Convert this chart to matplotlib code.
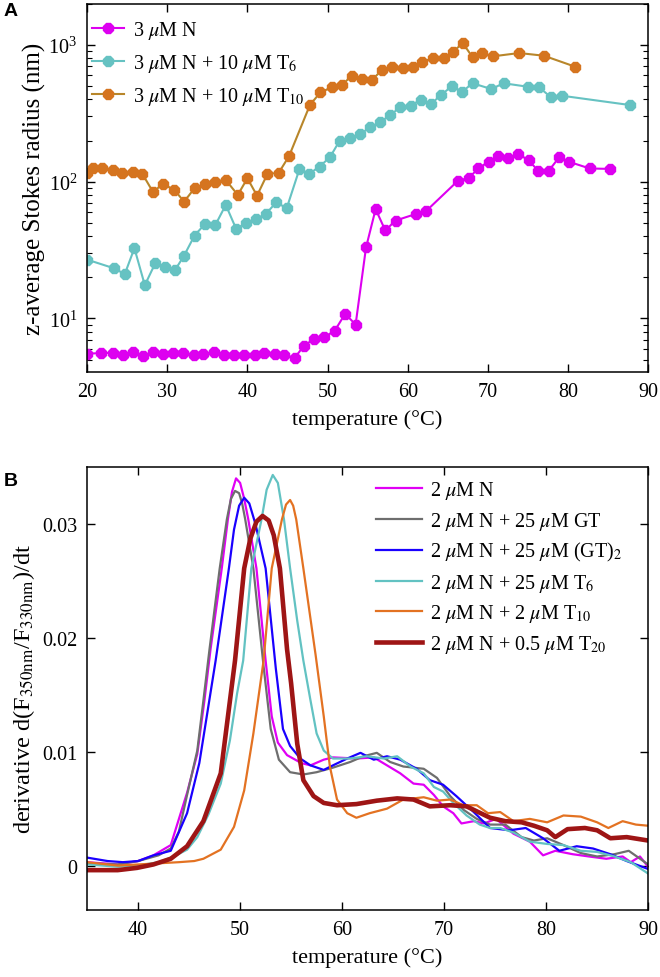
import numpy as np
import matplotlib
matplotlib.use("Agg")
import matplotlib.pyplot as plt

plt.rcParams['font.family'] = ['Liberation Serif', 'DejaVu Serif']
plt.rcParams['mathtext.fontset'] = 'stix'
plt.rcParams['xtick.direction'] = 'in'
plt.rcParams['ytick.direction'] = 'in'
plt.rcParams['xtick.top'] = True
plt.rcParams['ytick.right'] = True
plt.rcParams['axes.linewidth'] = 1.1

# ---- panel A: DLS z-average radius vs temperature ----
tN = [20, 21.7, 23.2, 24.5, 25.7, 27.0, 28.2, 29.5, 30.7, 32.0, 33.3, 34.5, 35.8,
      37.1, 38.3, 39.6, 40.9, 42.1, 43.4, 44.6, 45.9, 47.0, 48.3, 49.6, 50.9,
      52.2, 53.5, 54.8, 56.0, 57.2, 58.5, 61.0, 62.3, 66.3, 67.6, 68.8, 70.1,
      71.3, 72.5, 73.8, 75.1, 76.3, 77.6, 78.9, 80.1, 82.7, 85.3]
rN = [5.5, 5.58, 5.58, 5.43, 5.65, 5.28, 5.7, 5.46, 5.58, 5.58, 5.43, 5.5, 5.65,
      5.43, 5.4, 5.4, 5.4, 5.58, 5.46, 5.4, 5.13, 6.25, 7.07, 7.28, 8.13,
      10.8, 9.0, 33, 63, 44, 52, 58, 61, 102, 106, 125, 140,
      155, 148, 160, 143, 120, 120, 151, 140, 125, 124]

tT6 = [20, 23.3, 24.7, 25.9, 27.2, 28.5, 29.7, 31.0, 32.1, 33.4, 34.7, 36.0, 37.3,
       38.6, 39.8, 41.1, 42.3, 43.6, 44.9, 46.5, 47.7, 49.0, 50.3, 51.5, 52.8,
       54.1, 55.3, 56.6, 57.8, 59.1, 60.4, 61.6, 62.9, 64.2, 65.5, 66.8, 68.1,
       70.4, 72.0, 75.0, 76.4, 77.9, 79.2, 87.7]
rT6 = [26.9, 23.3, 21.1, 32.6, 17.5, 25.3, 23.6, 22.7, 28.8, 40.3, 49.1, 48.2, 67.6,
       45.1, 49.9, 53.4, 58.0, 70.7, 63.9, 124, 114, 129, 151, 199, 208,
       223, 250, 272, 308, 350, 360, 398, 370, 433, 499, 456, 525,
       477, 525, 495, 490, 414, 426, 364]

tT10 = [20, 20.7, 21.9, 23.2, 24.4, 25.7, 26.9, 28.2, 29.5, 30.9, 32.1, 33.4, 34.7,
        36.0, 37.3, 38.8, 40.0, 41.2, 42.5, 43.9, 45.2, 47.8, 49.1, 50.5, 51.8,
        53.0, 54.3, 55.5, 56.8, 58.1, 59.4, 60.6, 61.8, 63.1, 64.5, 65.6, 66.9,
        68.1, 69.3, 70.6, 73.9, 77.0, 80.9]
rT10 = [116, 125, 127, 122, 116, 118, 114, 84.5, 96, 87, 71.4, 89.5, 96,
        100, 103, 80, 106, 79, 114, 116, 154, 364, 450, 490, 509,
        596, 563, 554, 656, 694, 679, 694, 754, 800, 800, 893, 1029,
        813, 869, 826, 874, 835, 694]

dls_labels = [r'3 $\mu$M N', r'3 $\mu$M N + 10 $\mu$M T$_{6}$',
              r'3 $\mu$M N + 10 $\mu$M T$_{10}$']

# ---- panel B: first derivative of fluorescence ratio ----
tB_N = [35, 38, 40, 41.5, 43.2, 44.8, 45.8, 46.5, 47.1, 48.2, 48.8, 49.2, 49.6, 50.0,
        50.4, 50.8, 51.6, 52.5, 53.1, 53.7, 54.6, 56.0, 56.9, 58.2, 59.1, 61.4, 63.1, 64.4,
        65.7, 67.0, 68.0, 69.0, 69.9, 70.9, 71.7, 72.9, 73.9, 75.1, 76.8, 78.4, 79.7,
        80.9, 82.6, 84.2, 85.9, 87.5, 88.3, 89.2, 90]
dB_N = [0.0003, 0.0001, 0.0004, 0.0009, 0.0018, 0.0064, 0.0098, 0.0145, 0.019, 0.0261,
        0.0304, 0.0328, 0.0340, 0.0336, 0.0322, 0.0304, 0.0261, 0.0180, 0.0131, 0.0108,
        0.0097, 0.0090, 0.0088, 0.0093, 0.0095, 0.0094, 0.0095, 0.0088, 0.0081, 0.0072,
        0.0071, 0.0062, 0.0052, 0.0046, 0.0037, 0.0039, 0.0037, 0.0041, 0.0028, 0.0021,
        0.0009, 0.0013, 0.0010, 0.0008, 0.0006, 0.0008, 0.0003, 0.0008, -0.0001]

tB_GT = [35, 38, 40, 42, 43.2, 44.0, 44.8, 45.8, 46.4, 47.0, 48.0, 48.7, 49.1, 49.5,
         49.9, 50.2, 50.5, 51.3, 52.3, 53.0, 53.8, 54.9, 56.2, 57.5, 59.1, 60.8, 62.1, 63.4,
         64.7, 66.0, 68.0, 69.3, 70.6, 71.9, 73.2, 74.5, 76.0, 77.6, 78.8, 80.1, 81.7,
         83.4, 85.0, 86.7, 88.1, 90]
dB_GT = [0.0002, 0.0001, 0.0004, 0.0009, 0.0015, 0.0030, 0.0062, 0.0101, 0.0145, 0.019,
         0.0261, 0.0304, 0.0322, 0.0329, 0.0327, 0.0318, 0.0304, 0.0261, 0.0175, 0.0120,
         0.0093, 0.0082, 0.0080, 0.0082, 0.0086, 0.0091, 0.0096, 0.0099, 0.0091, 0.0087,
         0.0085, 0.0077, 0.0061, 0.0049, 0.0041, 0.0036, 0.0036, 0.0025, 0.0022, 0.0024,
         0.0018, 0.0011, 0.0008, 0.0010, 0.0013, 0.0001]

tB_GT2 = [35, 37, 38.5, 40, 41.5, 43.2, 44.8, 46.0, 47.6, 48.9, 49.4, 49.9, 50.4, 50.9,
          51.5, 52.5, 53.5, 54.2, 54.9, 55.9, 56.9, 58.2, 59.1, 60.5, 61.8, 63.1, 64.4,
          65.7, 67.3, 68.6, 69.9, 71.2, 72.9, 74.5, 76.4, 78.0, 79.7, 81.3, 83.0, 84.6,
          86.3, 87.9, 90]
dB_GT2 = [0.0007, 0.0004, 0.0003, 0.0004, 0.0009, 0.0013, 0.0046, 0.0090, 0.0180, 0.0261,
          0.0295, 0.0316, 0.0323, 0.0318, 0.0300, 0.0261, 0.0173, 0.0120, 0.0105, 0.0094,
          0.0088, 0.0084, 0.0088, 0.0094, 0.0099, 0.0093, 0.0096, 0.0093, 0.0085, 0.0075,
          0.0071, 0.0061, 0.0047, 0.0033, 0.0031, 0.0033, 0.0024, 0.0013, 0.0017, 0.0015,
          0.0010, 0.0004, -0.0003]

tB_T6 = [35, 38, 40, 42, 43.5, 44.8, 45.8, 46.9, 48.1, 49.0, 49.7, 50.3, 51.1, 52.1,
         52.6, 53.2, 53.7, 54.3, 54.9, 55.6, 56.2, 56.9, 57.5, 58.2, 59.1, 60.8, 62.4,
         64.1, 65.4, 66.7, 68.0, 69.0, 69.9, 70.9, 72.2, 73.5, 74.5, 75.5, 76.8, 78.4,
         80.1, 81.7, 83.4, 85.0, 86.7, 88.3, 90]
dB_T6 = [0.0001, -0.0001, 0.0, 0.0003, 0.0008, 0.0014, 0.0025, 0.0045, 0.0072, 0.0110,
         0.0151, 0.0180, 0.0261, 0.0304, 0.0330, 0.0343, 0.0336, 0.0304, 0.0261, 0.0215,
         0.0180, 0.0145, 0.0116, 0.0101, 0.0094, 0.0094, 0.0096, 0.0094, 0.0096, 0.0087,
         0.0081, 0.0069, 0.0065, 0.0055, 0.0044, 0.0036, 0.0033, 0.0033, 0.0029, 0.0021,
         0.0019, 0.0018, 0.0013, 0.0012, 0.0008, 0.0003, -0.0007]

tB_T10 = [35, 38, 40, 42, 44, 45.5, 46.4, 48.1, 49.4, 50.4, 51.3, 52.3, 53.1, 54.1,
          54.5, 54.9, 55.2, 55.5, 56.2, 57.4, 58.2, 58.8, 59.5, 60.5, 61.4, 62.7, 64.4,
          66.0, 68.0, 69.3, 70.6, 71.9, 73.2, 74.3, 75.5, 76.8, 78.4, 80.1, 81.7, 83.4,
          85.0, 86.1, 87.5, 88.8, 90]
dB_T10 = [0.0003, 0.0, 0.0001, 0.0002, 0.0003, 0.0004, 0.0006, 0.0014, 0.0034, 0.0066,
          0.0116, 0.0180, 0.0261, 0.0304, 0.0317, 0.0321, 0.0316, 0.0304, 0.0261, 0.0185,
          0.0131, 0.0087, 0.0058, 0.0046, 0.0042, 0.0046, 0.0050, 0.0058, 0.0060, 0.0057,
          0.0058, 0.0053, 0.0053, 0.0046, 0.0047, 0.0039, 0.0041, 0.0038, 0.0044, 0.0043,
          0.0038, 0.0033, 0.0039, 0.0036, 0.0035]

tB_T20 = [35, 38, 39.9, 41.5, 43.2, 44.8, 46.4, 48.1, 49.5, 50.4, 51.0, 51.6, 52.2, 52.8,
          53.3, 53.9, 54.6, 55.0, 55.6, 56.2, 57.2, 58.2, 59.5, 61.4, 63.4, 65.4, 67.0,
          68.6, 70.6, 72.2, 74.5, 76.0, 77.6, 78.8, 80.1, 80.9, 82.1, 83.8, 85.0, 86.3,
          87.9, 90]
dB_T20 = [-0.0004, -0.0004, -0.0002, 0.0001, 0.0006, 0.0017, 0.0039, 0.0081, 0.0180, 0.0261,
          0.0287, 0.0302, 0.0307, 0.0303, 0.0290, 0.0261, 0.0190, 0.0160, 0.0107, 0.0075,
          0.0061, 0.0055, 0.0053, 0.0054, 0.0057, 0.0059, 0.0058, 0.0052, 0.0053, 0.0052,
          0.0042, 0.0039, 0.0038, 0.0035, 0.0031, 0.0025, 0.0032, 0.0033, 0.0031, 0.0024,
          0.0025, 0.0022]

dsf_labels = [r'2 $\mu$M N', r'2 $\mu$M N + 25 $\mu$M GT',
              r'2 $\mu$M N + 25 $\mu$M (GT)$_{2}$', r'2 $\mu$M N + 25 $\mu$M T$_{6}$',
              r'2 $\mu$M N + 2 $\mu$M T$_{10}$', r'2 $\mu$M N + 0.5 $\mu$M T$_{20}$']

fig = plt.figure(figsize=(6.6, 9.78), dpi=100)

# panel A
axA = fig.add_axes([0.132, 0.6186, 0.85, 0.3764])
axA.plot(tN, rN, '-', color='#dd00f0', lw=1.5, marker='8', ms=8, mfc='#dd00f0', mec='#dd00f0',
         label=dls_labels[0])
axA.plot(tT6, rT6, '-', color='#66c2c2', lw=1.5, marker='8', ms=8, mfc='#66c2c2', mec='#66c2c2',
         label=dls_labels[1])
axA.plot(tT10, rT10, '-', color='#b8862a', lw=1.5, marker='8', ms=8, mfc='#d5741f', mec='#d5741f',
         label=dls_labels[2])
axA.set_yscale('log')
axA.set_xlim(20, 90)
axA.set_ylim(4.05, 2000)
axA.set_xticks([20, 30, 40, 50, 60, 70, 80, 90])
axA.tick_params(which='major', length=6, width=1, labelsize=14.5, pad=7)
axA.tick_params(which='minor', length=3.5, width=0.8)
axA.set_xlabel('temperature (\u00b0C)', fontsize=16, labelpad=6)
axA.set_ylabel('z-average Stokes radius (nm)', fontsize=18, labelpad=2)
axA.legend(loc='upper left', bbox_to_anchor=(-0.006, 0.98), frameon=False, fontsize=14.5,
           handlelength=1.6, handletextpad=0.45, labelspacing=0.55, borderaxespad=0)

# panel B
axB = fig.add_axes([0.132, 0.0685, 0.85, 0.453])
axB.plot(tB_N, dB_N, color='#e000f5', lw=1.6, label=dsf_labels[0])
axB.plot(tB_GT, dB_GT, color='#6e6e6e', lw=1.6, label=dsf_labels[1])
axB.plot(tB_GT2, dB_GT2, color='#1a00ff', lw=1.6, label=dsf_labels[2])
axB.plot(tB_T6, dB_T6, color='#62c2c2', lw=1.6, label=dsf_labels[3])
axB.plot(tB_T10, dB_T10, color='#e37222', lw=1.6, label=dsf_labels[4])
axB.plot(tB_T20, dB_T20, color='#9e1515', lw=3.3, label=dsf_labels[5])
axB.set_xlim(35, 90)
axB.set_ylim(-0.0039, 0.035)
axB.set_xticks([40, 50, 60, 70, 80, 90])
axB.set_yticks([0, 0.01, 0.02, 0.03])
axB.set_yticklabels(['0', '0.01', '0.02', '0.03'])
axB.tick_params(which='major', length=6, width=1, labelsize=14.5, pad=7)
axB.set_xlabel('temperature (\u00b0C)', fontsize=16, labelpad=6)
axB.set_ylabel(r'derivative d(F$_{\mathrm{350nm}}$/F$_{\mathrm{330nm}}$)/dt', fontsize=17.5, labelpad=4)
axB.legend(loc='upper left', bbox_to_anchor=(0.5, 0.99), frameon=False, fontsize=14.5,
           handlelength=2.3, handletextpad=0.4, labelspacing=0.42, borderaxespad=0)

fig.text(0.006, 0.997, 'A', fontsize=14, fontweight='bold', family='Liberation Sans', va='top')
fig.text(0.006, 0.516, 'B', fontsize=14, fontweight='bold', family='Liberation Sans', va='top')

fig.savefig('out.png', dpi=100)
